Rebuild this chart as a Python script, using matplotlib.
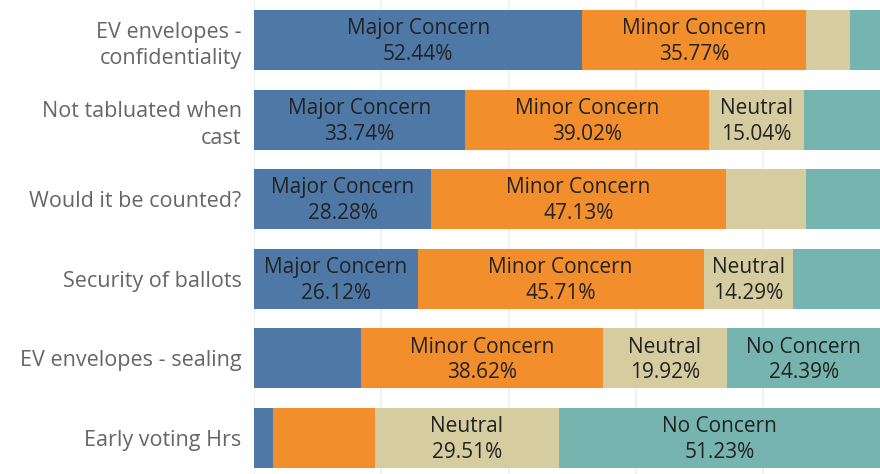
import matplotlib
matplotlib.use("Agg")
import matplotlib.pyplot as plt

categories = ["EV envelopes -\nconfidentiality", "Not tabluated when\ncast",
              "Would it be counted?", "Security of ballots",
              "EV envelopes - sealing", "Early voting Hrs"]
segments = ["Major Concern", "Minor Concern", "Neutral", "No Concern"]
major = [52.44, 33.74, 28.28, 26.12, 17.07, 3.10]
minor = [35.77, 39.02, 47.13, 45.71, 38.62, 16.16]
neutral = [7.00, 15.04, 12.80, 14.29, 19.92, 29.51]
no_concern = [4.79, 12.20, 11.79, 13.88, 24.39, 51.23]
colors = ["#4e79a7", "#f28e2b", "#d5cda0", "#76b5af"]
grid_step = 20.34

plt.rcParams['font.family'] = ['Open Sans', 'DejaVu Sans']
fig = plt.figure(figsize=(8.8, 4.74), dpi=100)
ax = fig.add_axes([254/880, 0, 626/880, 1])
ax.set_xlim(0, 100)
ax.set_ylim(5.452, -0.503)

for k in range(0, 5):
    ax.axvline(k*grid_step, color="#efefef", lw=1.2, zorder=0)

series = [major, minor, neutral, no_concern]
fig.canvas.draw()
renderer = fig.canvas.get_renderer()
for i, cat in enumerate(categories):
    left = 0
    for s, vals in enumerate(series):
        v = vals[i]
        ax.barh(i, v, left=left, height=0.754, color=colors[s], zorder=2)
        t = ax.text(left + v/2, i + 0.02, f"{segments[s]}\n{v:.2f}%", ha="center", va="center",
                    fontsize=15, color="#222222", linespacing=1.3, zorder=3)
        bb = t.get_window_extent(renderer=renderer)
        seg_px = ax.transData.transform((left + v, 0))[0] - ax.transData.transform((left, 0))[0]
        if bb.width > seg_px - 8:
            t.remove()
        left += v

ax.set_yticks(range(len(categories)))
ax.set_yticklabels(categories, fontsize=15.5, color="#666666", linespacing=1.35)
ax.tick_params(axis="y", length=0, pad=9)
ax.set_xticks([])
for sp in ax.spines.values():
    sp.set_visible(False)

fig.savefig("out.png", dpi=100)
